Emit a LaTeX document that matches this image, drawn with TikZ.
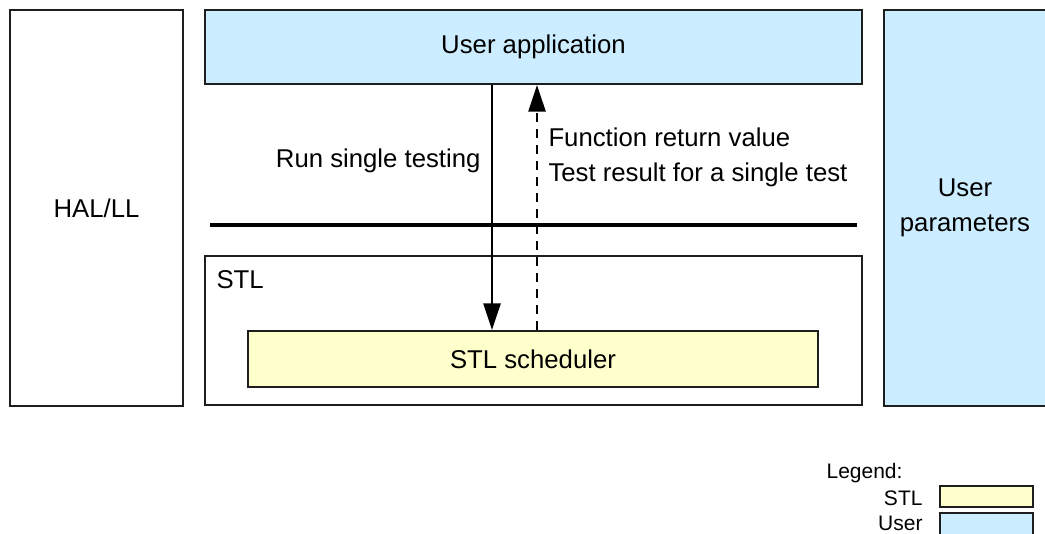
\documentclass[tikz,border=0pt]{standalone}
\usepackage{fontspec}
\setmainfont{Liberation Sans}
\usetikzlibrary{arrows.meta,fit}

\definecolor{stlyellow}{RGB}{255,255,204}
\definecolor{userblue}{RGB}{204,236,255}
\definecolor{edgegray}{RGB}{30,30,30}

\tikzset{every picture/.style={line width=0.75pt}}
\tikzset{
  blk/.style={draw=edgegray, line width=1.5pt, inner sep=0pt},
  lbl/.style={inner sep=0pt, align=center, font=\fontsize{19.3}{26.5}\selectfont},
  legtext/.style={inner sep=0pt, font=\fontsize{15.75}{19}\selectfont},
  call/.style={line width=1.2pt, -{Triangle[length=20pt,width=13pt]}},
  retcall/.style={call, dash pattern=on 7pt off 5pt},
}

\begin{document}
\begin{tikzpicture}[x=0.75pt,y=0.75pt,yscale=-1,xscale=1]
\path [use as bounding box, clip] (0,0) rectangle (1045,534);

%Shape: Rectangle
\node [blk, fit={(10,10) (183,406)}] (hal) {};
%Shape: Rectangle
\node [blk, fill=userblue, fit={(205,10) (862,84)}] (app) {};
%Shape: Rectangle
\node [blk, fill=userblue, fit={(884,10) (1046,406)}] (par) {};
%Shape: Rectangle
\node [blk, fit={(205,256) (862,405)}] (stl) {};
%Shape: Rectangle
\node [blk, fill=stlyellow, fit={(248,331) (818,387)}] (sched) {};

%Straight Lines
\draw [line width=2.6pt] (210,225) -- (857,225) ;

%Straight Lines
\coordinate (runx) at (492,0);
\coordinate (retx) at (537,0);
\draw [call] (app.south -| runx) -- (sched.north -| runx) ;
\draw [retcall] (sched.north -| retx) -- (app.south -| retx) ;

% Text Node
\node [lbl] (haltxt) at (hal.center) {HAL/LL};
% Text Node
\node [lbl] (apptxt) at (app.center) {User application};
% Text Node
\node [lbl] (partxt) at (par.center) {User\\parameters};
% Text Node
\node [lbl] (schedtxt) at (sched.center) {STL scheduler};
% Text Node
\node [lbl, anchor=base west] (stllbl) at (216,289) {STL};
% Text Node
\node [lbl, anchor=base east] (run) at (481,168) {Run single testing};
% Text Node
\node [lbl, anchor=base west, align=left] (ret) at (548,182) {Function return value\\Test result for a single test};

% Legend
\node [legtext, anchor=base east] (leg) at (903,478) {Legend:};
\node [legtext, anchor=base east] (legstl) at (923,505) {STL};
\node [legtext, anchor=base east] (leguser) at (923,530) {User};
\node [blk, fill=stlyellow, fit={(940,486) (1033,507)}] (legstlbox) {};
\node [blk, fill=userblue, fit={(940,513) (1033,540)}] (leguserbox) {};

\end{tikzpicture}
\end{document}
